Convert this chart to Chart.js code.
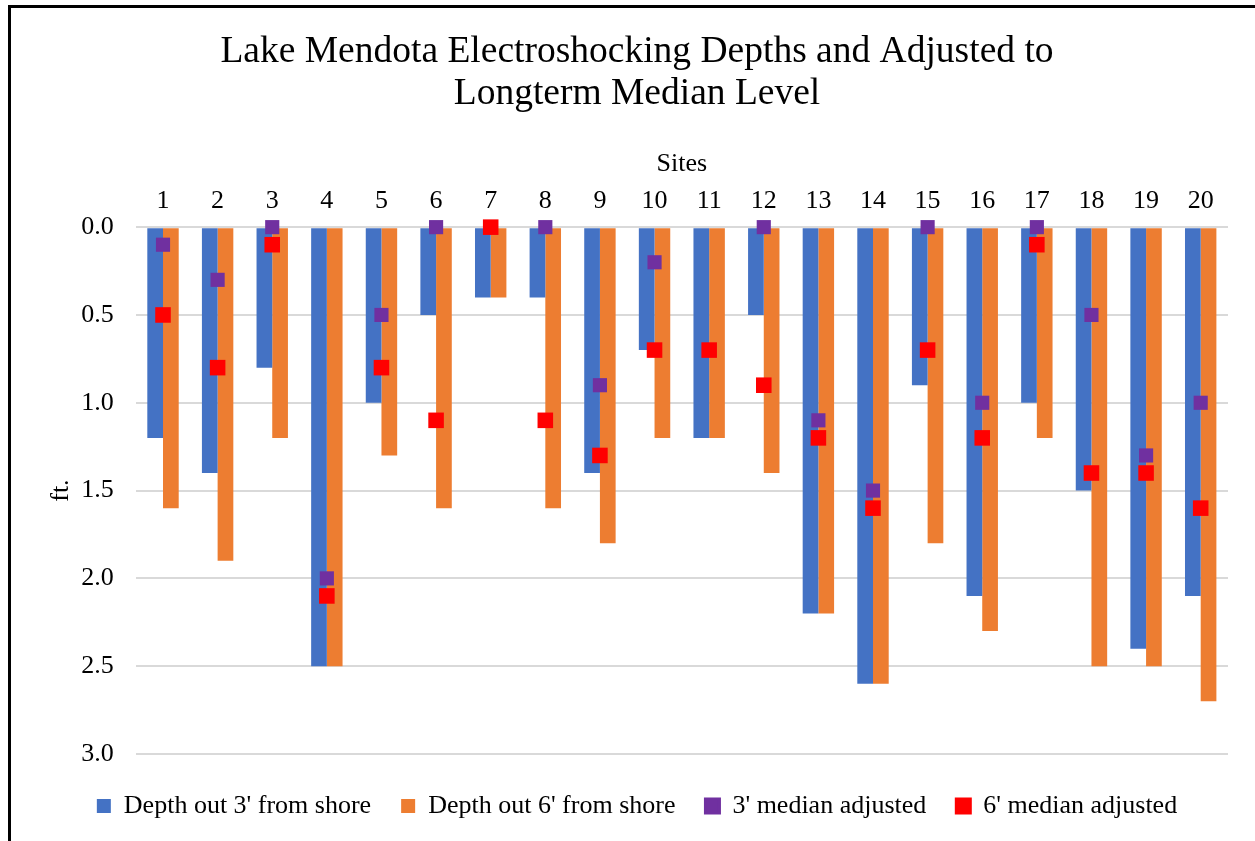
<!DOCTYPE html>
<html>
<head>
<meta charset="utf-8">
<script src="https://cdn.jsdelivr.net/npm/chart.js@4"></script>
<style>
    html, body { margin: 0; padding: 0; background: #fff; overflow: hidden; }
    #frame { position: absolute; left: 8px; top: 5px; width: 1400px; height: 1000px; border: 3px solid #000; }
    #wrap { position: absolute; left: 0; top: 0; width: 1255px; height: 841px; }
</style>
</head>
<body>
<div id="frame"></div>
<div id="wrap"><canvas id="depthChart"></canvas></div>
<script>
// --- Dados do gráfico ---
const sites = ['1', '2', '3', '4', '5', '6', '7', '8', '9', '10', '11', '12', '13', '14', '15', '16', '17', '18', '19', '20'];
const depth3ft = [1.2, 1.4, 0.8, 2.5, 1.0, 0.5, 0.4, 0.4, 1.4, 0.7, 1.2, 0.5, 2.2, 2.6, 0.9, 2.1, 1.0, 1.5, 2.4, 2.1];
const depth6ft = [1.6, 1.9, 1.2, 2.5, 1.3, 1.6, 0.4, 1.6, 1.8, 1.2, 1.2, 1.4, 2.2, 2.6, 1.8, 2.3, 1.2, 2.5, 2.5, 2.7];
const median3ft = [0.1, 0.3, 0.0, 2.0, 0.5, 0.0, 0.0, 0.0, 0.9, 0.2, 0.7, 0.0, 1.1, 1.5, 0.0, 1.0, 0.0, 0.5, 1.3, 1.0];
const median6ft = [0.5, 0.8, 0.1, 2.1, 0.8, 1.1, 0.0, 1.1, 1.3, 0.7, 0.7, 0.9, 1.2, 1.6, 0.7, 1.2, 0.1, 1.4, 1.4, 1.6];

const chartTitle = ['Lake Mendota Electroshocking Depths and Adjusted to', 'Longterm Median Level'];
const serif = "'Times New Roman', 'Liberation Serif', serif";

const ctx = document.getElementById('depthChart').getContext('2d');

new Chart(ctx, {
    type: 'bar',
    data: {
        labels: sites,
        datasets: [
            {
                label: "Depth out 3' from shore",
                data: depth3ft,
                backgroundColor: '#4472C4',
                order: 3
            },
            {
                label: "Depth out 6' from shore",
                data: depth6ft,
                backgroundColor: '#ED7D31',
                order: 3
            },
            {
                type: 'line',
                label: "3' median adjusted",
                data: median3ft,
                showLine: false,
                backgroundColor: '#7030A0',
                borderColor: '#7030A0',
                pointStyle: 'rect',
                pointRadius: 10,
                pointHoverRadius: 10,
                pointBorderWidth: 0,
                clip: false,
                order: 1
            },
            {
                type: 'line',
                label: "6' median adjusted",
                data: median6ft,
                showLine: false,
                backgroundColor: '#FF0000',
                borderColor: '#FF0000',
                pointStyle: 'rect',
                pointRadius: 11,
                pointHoverRadius: 11,
                pointBorderWidth: 0,
                clip: false,
                order: 0
            }
        ]
    },
    options: {
        responsive: true,
        maintainAspectRatio: false,
        animation: false,
        datasets: {
            bar: { categoryPercentage: 0.575, barPercentage: 1.0 }
        },
        layout: { padding: { left: 46, right: 27, top: 0, bottom: 12 } },
        plugins: {
            title: {
                display: true,
                text: chartTitle,
                color: '#000',
                font: { family: serif, size: 37.5, weight: 'normal', lineHeight: 1.13 },
                padding: { top: 31, bottom: 33 }
            },
            legend: {
                position: 'bottom',
                // título vazio só para abrir espaço entre o gráfico e a legenda
                title: { display: true, text: '', font: { size: 1, lineHeight: 1 }, padding: { top: 4, bottom: 4 } },
                labels: {
                    color: '#000',
                    font: { family: serif, size: 26 },
                    boxWidth: 14,
                    boxHeight: 14,
                    padding: 30,
                    sort: (a, b) => a.datasetIndex - b.datasetIndex
                }
            },
            tooltip: { enabled: false }
        },
        scales: {
            x: {
                position: 'top',
                grid: { display: false },
                border: { display: false },
                ticks: { color: '#000', font: { family: serif, size: 26 }, padding: 2 },
                title: {
                    display: true,
                    text: 'Sites',
                    color: '#000',
                    font: { family: serif, size: 26 },
                    padding: { top: 0, bottom: 4 }
                }
            },
            y: {
                reverse: true,
                min: 0,
                max: 3,
                ticks: {
                    stepSize: 0.5,
                    color: '#000',
                    font: { family: serif, size: 26 },
                    padding: 22,
                    callback: value => value.toFixed(1)
                },
                grid: { color: '#D9D9D9', lineWidth: 2, drawTicks: false },
                border: { display: false },
                title: {
                    display: true,
                    text: 'ft.',
                    color: '#000',
                    font: { family: serif, size: 26 },
                    padding: { top: 0, bottom: -18 }
                }
            }
        }
    }
});
</script>
</body>
</html>
